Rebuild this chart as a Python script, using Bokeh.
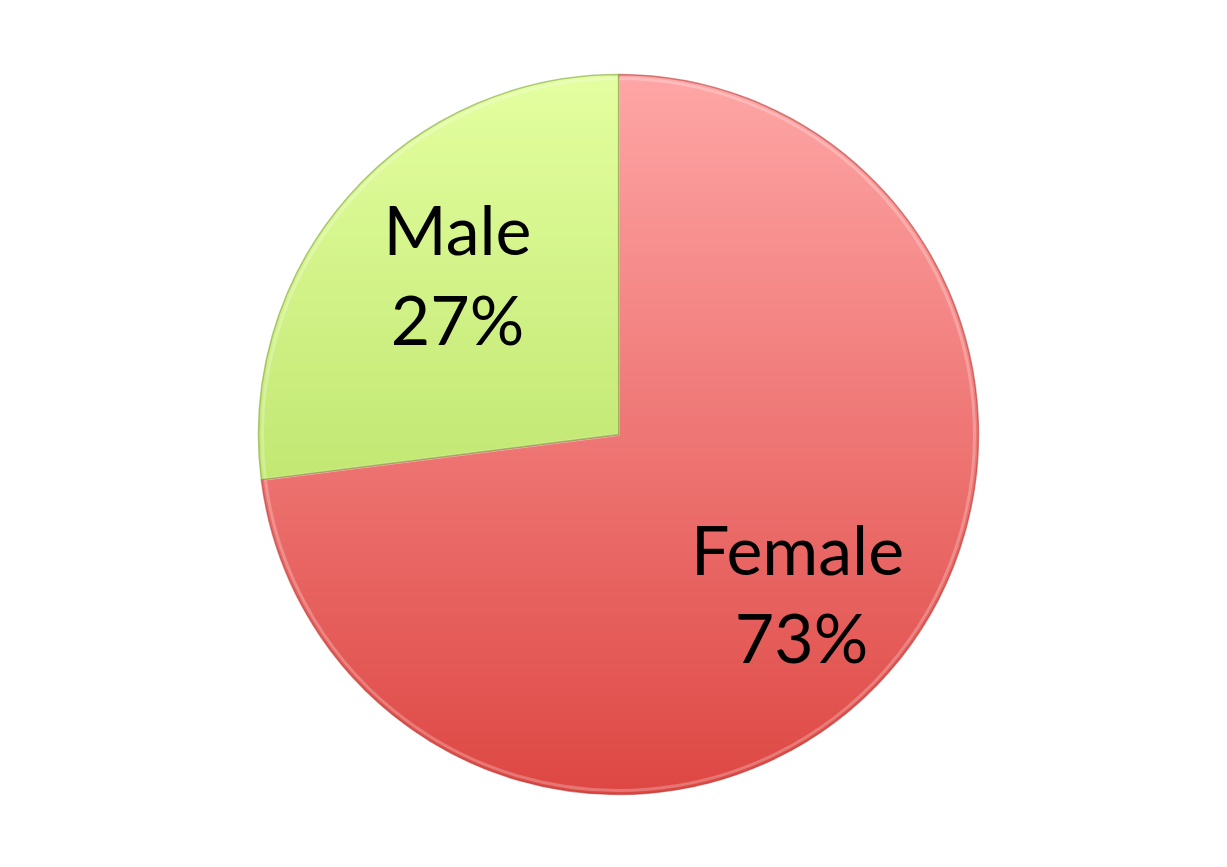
import math
from bokeh.plotting import figure
from bokeh.models import Range1d
from bokeh.core.properties import value
from bokeh.embed import file_html
from bokeh.resources import INLINE

# data
labels = ["Female", "Male"]
shares = [73, 27]
top_colors = [(255, 166, 166), (228, 255, 160)]
bottom_colors = [(222, 72, 68), (168, 214, 80)]
edge_colors = ["#b83a36", "#7fa53a"]

W, H = 1211, 851
cx, cy, R = 618, H - 434, 360

p = figure(width=W, height=H, output_backend="svg", toolbar_location=None,
           x_range=Range1d(0, W), y_range=Range1d(0, H), min_border=0)
p.axis.visible = False
p.grid.visible = False
p.outline_line_color = None


def clip(poly, lo, hi):
    # clip polygon against lo <= y <= hi
    def half(pts, keep, cut):
        out = []
        n = len(pts)
        for i in range(n):
            a, b = pts[i], pts[(i + 1) % n]
            ka, kb = keep(a), keep(b)
            if ka:
                out.append(a)
            if ka != kb:
                t = (cut - a[1]) / (b[1] - a[1])
                out.append((a[0] + t * (b[0] - a[0]), cut))
        return out
    pts = half(poly, lambda q: q[1] >= lo, lo)
    if pts:
        pts = half(pts, lambda q: q[1] <= hi, hi)
    return pts


# slices go clockwise from 12 o'clock
start = math.pi / 2
total = sum(shares)
for lab, s, c0, c1, ec in zip(labels, shares, top_colors, bottom_colors, edge_colors):
    sweep = 2 * math.pi * s / total
    end = start - sweep
    steps = 200
    poly = [(cx, cy)] + [(cx + R * math.cos(start - sweep * k / steps),
                          cy + R * math.sin(start - sweep * k / steps)) for k in range(steps + 1)]
    nb = 80
    xs, ys, cols = [], [], []
    for b in range(nb):
        hi = cy + R - 2 * R * b / nb
        lo = hi - 2 * R / nb - 0.8
        band = clip(poly, lo, hi)
        if len(band) < 3:
            continue
        t = (b + 0.5) / nb
        col = tuple(int(c0[i] + (c1[i] - c0[i]) * t) for i in range(3))
        xs.append([q[0] for q in band])
        ys.append([q[1] for q in band])
        cols.append("#%02x%02x%02x" % col)
    p.patches(xs, ys, fill_color=cols, line_color=None)
    # soft bevel highlight just inside the edge
    p.wedge(x=cx, y=cy, radius=R - 4, start_angle=end, end_angle=start,
            fill_color=None, line_color="white", line_alpha=0.25, line_width=3)
    p.wedge(x=cx, y=cy, radius=R, start_angle=end, end_angle=start,
            fill_color=None, line_color=ec, line_alpha=0.6, line_width=1.5)
    start = end

font = value("Lato")
p.text(x=[457], y=[H - 228], text=["Male"], text_font=font,
       text_font_size="68px", text_align="center", text_baseline="middle", text_color="black")
p.text(x=[457], y=[H - 318], text=["27%"], text_font=font,
       text_font_size="68px", text_align="center", text_baseline="middle", text_color="black")
p.text(x=[797], y=[H - 548], text=["Female"], text_font=font,
       text_font_size="68px", text_align="center", text_baseline="middle", text_color="black")
p.text(x=[801], y=[H - 636], text=["73%"], text_font=font,
       text_font_size="68px", text_align="center", text_baseline="middle", text_color="black")

open("out.html", "w").write(file_html(p, INLINE))
